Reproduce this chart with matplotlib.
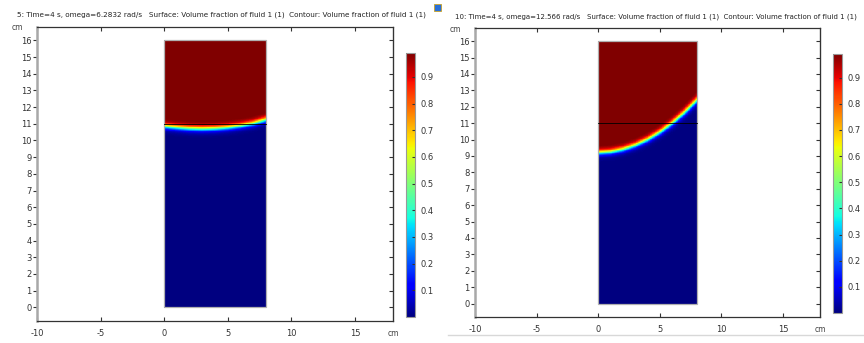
import numpy as np
import matplotlib
matplotlib.use('Agg')
import matplotlib.pyplot as plt
from matplotlib.patches import Rectangle
from matplotlib.lines import Line2D

plt.rcParams['axes.unicode_minus'] = False

W, H = 864, 343

# interface height (cm) of fluid 1 / fluid 2 at x = 0..8 cm
x_iface = [0, 1, 2, 3, 4, 5, 6, 7, 8]
h_omega1 = [10.85, 10.78, 10.72, 10.70, 10.72, 10.78, 10.88, 11.02, 11.25]
h_omega2 = [9.20, 9.25, 9.40, 9.65, 10.00, 10.45, 11.00, 11.65, 12.40]

titles = ['5: Time=4 s, omega=6.2832 rad/s   Surface: Volume fraction of fluid 1 (1)  Contour: Volume fraction of fluid 1 (1)',
          '10: Time=4 s, omega=12.566 rad/s   Surface: Volume fraction of fluid 1 (1)  Contour: Volume fraction of fluid 1 (1)']
x_ticks = [-10, -5, 0, 5, 10, 15]
y_ticks = list(range(0, 17))
cb_ticks = [0.1, 0.2, 0.3, 0.4, 0.5, 0.6, 0.7, 0.8, 0.9]
tank_w, tank_h = 8, 16
line_y = 11
vmin, vmax = 0.0, 0.99


def px(x0, y0, w, h):
    # pixel box (top-left origin) -> figure fraction
    return [x0 / W, 1 - (y0 + h) / H, w / W, h / H]


def field(h_pts):
    xs = np.linspace(0, tank_w, 240)
    ys = np.linspace(0, tank_h, 600)
    h = np.interp(xs, x_iface, h_pts)
    slope = np.gradient(h, xs)
    X, Y = np.meshgrid(xs, ys)
    d = (Y - h[None, :]) / np.sqrt(1 + slope[None, :] ** 2)
    return xs, ys, 0.5 * (1 + np.tanh(d / 0.2))


fig = plt.figure(figsize=(W / 100, H / 100), dpi=100)
renderer = fig.canvas.get_renderer()
fs = 6

panels = [
    dict(ax=(37, 27, 356, 294), cb=(406, 53, 9, 264), h=h_omega1, title_xy=(17, 15), title_w=412),
    dict(ax=(475, 28, 345, 289), cb=(833, 54, 9, 259), h=h_omega2, title_xy=(455, 17), title_w=402),
]

for p, title in zip(panels, titles):
    ax = fig.add_axes(px(*p['ax']))
    xs, ys, vf = field(p['h'])
    im = ax.pcolormesh(xs, ys, vf, cmap='jet', vmin=vmin, vmax=vmax, shading='auto')
    ax.add_patch(Rectangle((0, 0), tank_w, tank_h, fill=False, ec='#b0b0b0', lw=0.9))
    ax.plot([0, tank_w], [line_y, line_y], color='black', lw=0.6)
    ax.set_xlim(-10, 18)
    ax.set_ylim(-0.82, 16.8)
    ax.set_xticks(x_ticks)
    ax.set_yticks(y_ticks)
    ax.tick_params(axis='x', direction='in', top=True, length=3, labelsize=fs, pad=6, colors='#333333')
    ax.tick_params(axis='y', direction='out', length=3, labelsize=fs, pad=1, colors='#333333')
    # inward ticks on the right frame
    sec = ax.secondary_yaxis('right')
    sec.set_yticks(y_ticks)
    sec.tick_params(direction='in', length=3, labelright=False, colors='#333333')
    sec.spines['right'].set_color('#333333')
    for side in ['top', 'bottom', 'right']:
        ax.spines[side].set_color('#333333')
        ax.spines[side].set_linewidth(0.9)
    ax.spines['left'].set_color('#a8a8a8')
    ax.spines['left'].set_linewidth(1.8)

    x0, y0, w, h = p['ax']
    fig.text((x0 - 25) / W, 1 - (y0 + 1) / H, 'cm', fontsize=5.5, color='#444444', va='center')
    fig.text((x0 + w - 5) / W, 1 - (y0 + h + 12) / H, 'cm', fontsize=5.5, color='#444444', va='center')
    t = fig.text(p['title_xy'][0] / W, 1 - p['title_xy'][1] / H, title, fontsize=5.5,
                 color='#222222', va='center')
    # scale font so the title spans the same width as in the screenshot
    for _ in range(3):
        tw = t.get_window_extent(renderer).width
        t.set_fontsize(t.get_fontsize() * p['title_w'] / tw)

    cax = fig.add_axes(px(*p['cb']))
    cb = fig.colorbar(im, cax=cax, ticks=cb_ticks)
    cb.outline.set_edgecolor('#999999')
    cb.outline.set_linewidth(0.8)
    cax.tick_params(direction='in', length=2, labelsize=fs, pad=4, colors='#333333')

# little window icon and bottom separator of the second screenshot
fig.add_artist(Rectangle((434 / W, 1 - 11 / H), 7 / W, 7 / H, transform=fig.transFigure,
                         fc='#2a6fd6', ec='#c9a227', lw=0.6))
fig.add_artist(Line2D([448 / W, 1.0], [1 - 335 / H, 1 - 335 / H], transform=fig.transFigure,
                      color='#d8d8d8', lw=1.0))

fig.savefig('out.png', dpi=100)
